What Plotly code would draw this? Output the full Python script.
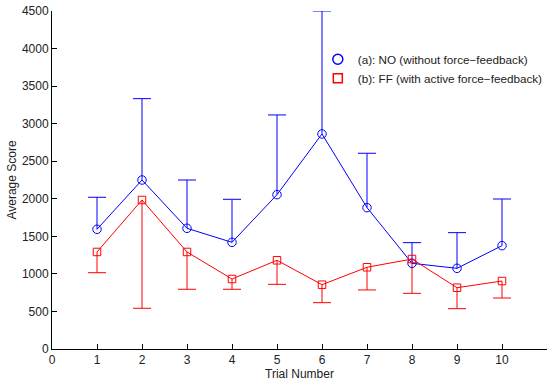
import plotly.graph_objects as go

trials = [1, 2, 3, 4, 5, 6, 7, 8, 9, 10]
no_mean = [1594, 2250, 1607, 1420, 2055, 2863, 1882, 1141, 1074, 1376]
no_upper = [2020, 3333, 2250, 1993, 3116, 4500, 2606, 1416, 1549, 1997]
ff_mean = [1292, 1984, 1292, 932, 1181, 856, 1088, 1198, 816, 905]
ff_lower = [1016, 542, 795, 795, 861, 617, 786, 741, 537, 679]

name_no = "(a): NO (without force\u2212feedback)"
name_ff = "(b): FF (with active force\u2212feedback)"

BLUE = "#0000FF"
RED = "#FF0000"
CAP = 0.2  # half cap width in trial units


def err_path(xs, starts, ends):
    px, py = [], []
    for x, s, e in zip(xs, starts, ends):
        px += [x, x, None, x - CAP, x + CAP, None]
        py += [s, e, None, e, e, None]
    return px, py


fig = go.Figure()

bx, by = err_path(trials, no_mean, no_upper)
rx, ry = err_path(trials, ff_mean, ff_lower)

fig.add_trace(go.Scatter(x=bx, y=by, mode="lines", line=dict(color=BLUE, width=1),
                         showlegend=False, hoverinfo="skip"))
fig.add_trace(go.Scatter(x=rx, y=ry, mode="lines", line=dict(color=RED, width=1),
                         showlegend=False, hoverinfo="skip"))
fig.add_trace(go.Scatter(x=trials, y=no_mean, mode="lines+markers", name=name_no,
                         line=dict(color=BLUE, width=1),
                         marker=dict(symbol="circle-open", size=8.5, color=BLUE, line=dict(width=1)),
                         showlegend=False))
fig.add_trace(go.Scatter(x=trials, y=ff_mean, mode="lines+markers", name=name_ff,
                         line=dict(color=RED, width=1),
                         marker=dict(symbol="square-open", size=7.5, color=RED, line=dict(width=1)),
                         showlegend=False))
# legend entries (markers only)
fig.add_trace(go.Scatter(x=[None], y=[None], mode="markers", name=name_no,
                         marker=dict(symbol="circle-open", size=10, color=BLUE, line=dict(width=1.5))))
fig.add_trace(go.Scatter(x=[None], y=[None], mode="markers", name=name_ff,
                         marker=dict(symbol="square-open", size=9, color=RED, line=dict(width=1.5))))

FONT = "Liberation Sans, Arial, Helvetica, sans-serif"

fig.update_layout(
    width=552, height=385,
    margin=dict(l=52, r=5, t=11, b=36, autoexpand=False),
    paper_bgcolor="white", plot_bgcolor="white",
    font=dict(family=FONT, size=12, color="#222222"),
    legend=dict(x=0.537, y=0.9, xanchor="left", yanchor="top",
                bgcolor="rgba(0,0,0,0)", itemwidth=30, tracegroupgap=0,
                font=dict(size=11.7, color="#222222")),
    xaxis=dict(range=[0, 11], tickmode="array", tickvals=list(range(0, 12)),
               showgrid=False, zeroline=False, showline=True, linecolor="black", linewidth=1,
               ticks="inside", ticklen=5, tickcolor="black",
               title=dict(text="Trial Number", standoff=2, font=dict(size=12))),
    yaxis=dict(range=[0, 4500], tickmode="array", tickvals=list(range(0, 4501, 500)),
               showgrid=False, zeroline=False, showline=True, linecolor="black", linewidth=1,
               ticks="inside", ticklen=5, tickcolor="black",
               title=dict(text="Average Score", standoff=2, font=dict(size=12))),
)

fig.write_html("out.html", config={"displayModeBar": False},
               post_script="document.body.style.margin='0';document.body.style.overflow='hidden';")
